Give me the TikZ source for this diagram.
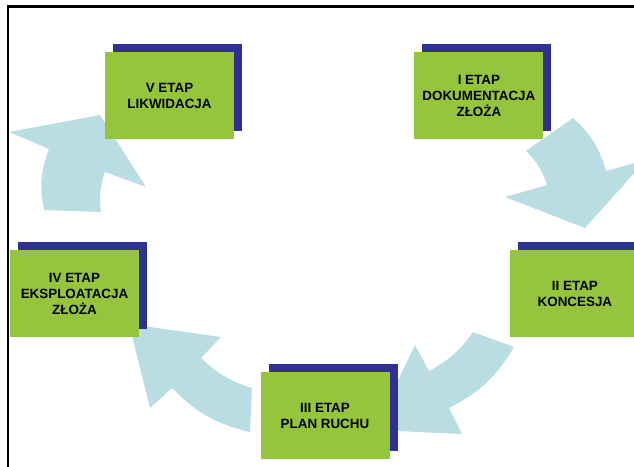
\documentclass[tikz,border=0pt]{standalone}
\usepackage{fontspec}
\setmainfont{Liberation Sans}
\usepackage{tikz}
\usetikzlibrary{shapes}
\usetikzlibrary{shadows}
\usetikzlibrary{positioning}

\definecolor{etapgreen}{RGB}{149,196,61}
\definecolor{etapblue}{RGB}{46,49,146}
\definecolor{cyclearrow}{RGB}{185,221,226}

\begin{document}
\begin{tikzpicture}[x=1pt, y=1pt,
	  etap/.style={rectangle,fill=etapgreen,minimum width=129pt,minimum height=87pt,inner sep=0pt,align=center,
	    font=\bfseries\fontsize{13.4}{16}\selectfont,
	    general shadow={fill=etapblue,shadow xshift=8pt,shadow yshift=8pt}},
	  flowarrow/.style={fill=cyclearrow,draw=none},
	  outerarc/.style={bend left=16},
	  innerarc/.style={bend right=13}]
	  \useasboundingbox (0,0) rectangle (634,-466);
	  \clip (0,0) rectangle (634,-466);
	  \draw[line width=2.5pt] (7.8,-480) -- (7.8,-6.6) -- (650,-6.6);
%
	  \fill[flowarrow] (573,-118) to[outerarc] (606,-171) -- (646,-160) -- (585,-228) -- (505,-197)
	    -- (547,-185) to[innerarc] (526,-151) -- cycle;
	  \fill[flowarrow] (514,-347) to[outerarc] (449,-408) -- (462,-434) -- (374,-430) -- (415,-345)
	    -- (429,-371) to[innerarc] (473,-332) -- cycle;
	  \fill[flowarrow] (250,-432) to[outerarc] (172,-388) -- (150,-408) -- (129,-324) -- (221,-337)
	    -- (201,-358) to[innerarc] (252,-388) -- cycle;
	  \fill[flowarrow] (44,-210) to[outerarc] (49,-149) -- (9,-132) -- (100,-115) -- (146,-187)
	    -- (105,-172) to[innerarc] (101,-212) -- cycle;
%
	  \node[etap] (v) at (169.5,-95.5) {V ETAP\\LIKWIDACJA};
	  \node[etap] (i) [right=180pt of v] {I ETAP\\DOKUMENTACJA\\ZŁOŻA};
	  \node[etap] (iv) at (74.5,-293.5) {IV ETAP\\EKSPLOATACJA\\ZŁOŻA};
	  \node[etap] (ii) [right=371pt of iv] {II ETAP\\KONCESJA};
	  \node[etap] (iii) at (325,-415.5) {III ETAP\\PLAN RUCHU};
	\end{tikzpicture}
\end{document}
